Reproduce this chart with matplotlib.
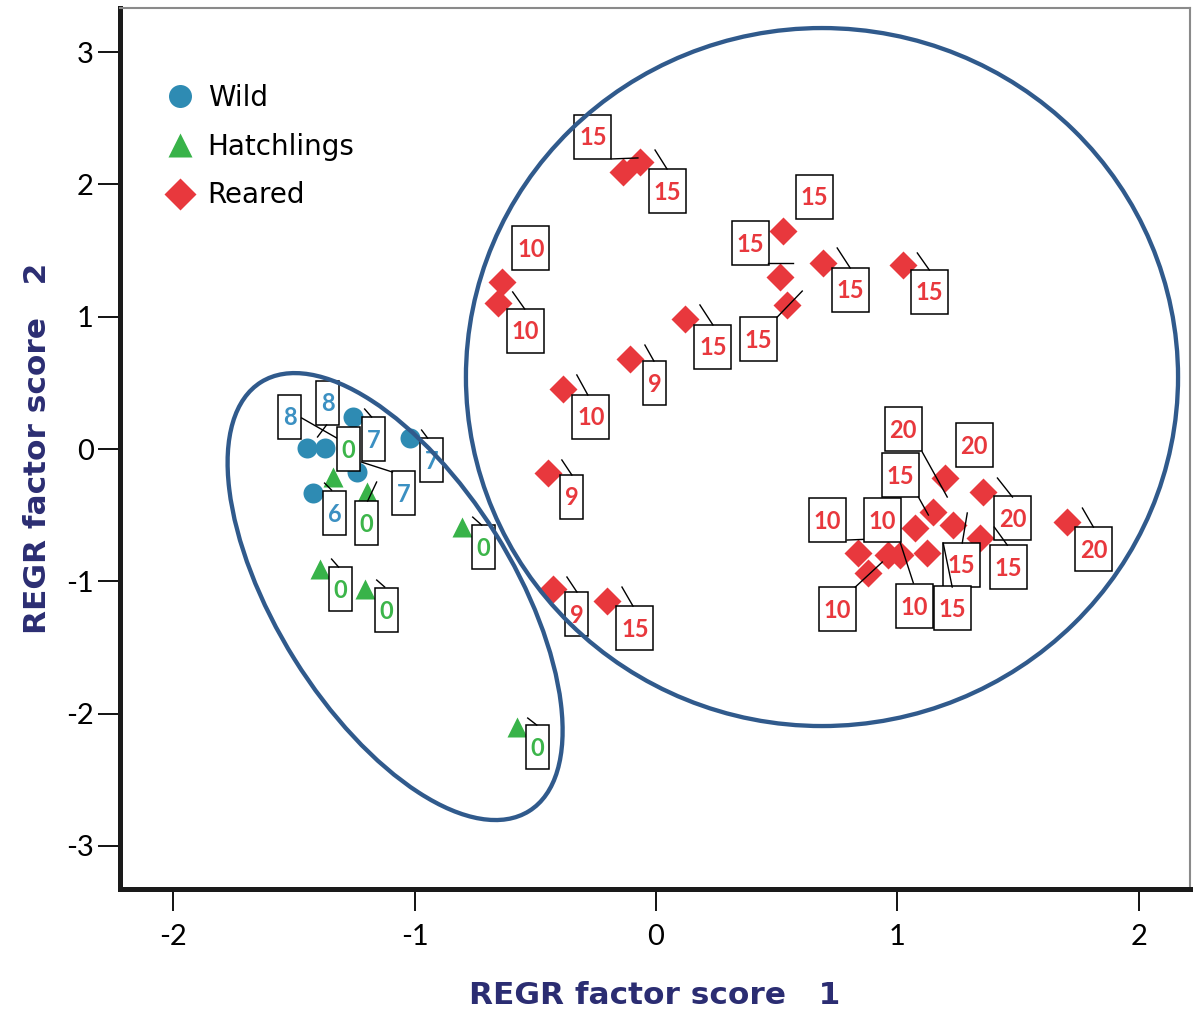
import matplotlib
matplotlib.use("Agg")
import matplotlib.pyplot as plt
from matplotlib.transforms import Affine2D, ScaledTranslation
from matplotlib.patches import Rectangle, Ellipse
from matplotlib.lines import Line2D

plt.rcParams['font.family'] = ['Lato', 'DejaVu Sans']

# ---------------- data ----------------
wild_x = [-1.448, -1.373, -1.257, -1.237, -1.423, -1.021]
wild_y = [0.008, 0.008, 0.242, -0.174, -0.333, 0.083]
wild_lab = ['8', '8', '7', '7', '6', '7']

hatch_x = [-1.340, -1.199, -0.805, -1.394, -1.207, -0.577]
hatch_y = [-0.212, -0.325, -0.590, -0.907, -1.058, -2.101]
hatch_lab = ['0', '0', '0', '0', '0', '0']

reared_x = [-0.137, -0.066, -0.639, -0.656, 0.527, 0.515, 0.693, 0.544, 1.025,
            0.120, -0.108, -0.386, -0.448, -0.427, -0.203,
            1.199, 1.149, 1.075, 0.838, 0.963, 0.880, 1.357, 1.705, 1.232,
            1.344, 1.124, 1.012]
reared_y = [2.094, 2.169, 1.262, 1.104, 1.648, 1.300, 1.406, 1.088, 1.391,
            0.983, 0.680, 0.454, -0.181, -1.058, -1.149,
            -0.219, -0.476, -0.597, -0.786, -0.801, -0.937, -0.325, -0.552, -0.574,
            -0.673, -0.786, -0.801]
reared_lab = ['15', '15', '10', '10', '15', '15', '15', '15', '15',
              '15', '9', '10', '9', '9', '15',
              '20', '20', '15', '10', '10', '10', '20', '20', '15',
              '15', '15', '10']

group_names = ['Wild', 'Hatchlings', 'Reared']
x_ticks = [-2, -1, 0, 1, 2]
y_ticks = [-3, -2, -1, 0, 1, 2, 3]
x_title = 'REGR factor score   1'
y_title = 'REGR factor score   2'

# ---------------- label placement (pixel offsets, y downward) ----------------
# (box_dx, box_dy, leader_x0, leader_y0, leader_x1, leader_y1) or leader None
wild_place = [(21, -45, 11, -11, 20, -23), (-35, -31, 12, -10, -23, -30),
              (21, 22, 12, -8, 19, 0), (46, 21, 4, -10, 35, 0),
              (22, 20, 12, -10, 19, -3), (22, 22, 12, -8, 18, 0)]
hatch_place = [(16, -28, None), (0, 31, 10, -10, 1, 9), (22, 20, 11, -10, 20, -2),
               (21, 20, 12, -10, 19, -2), (22, 21, 12, -9, 20, -2),
               (21, 20, 11, -9, 20, -2)]
reared_place = [(-30, -35, -11, -13, 15, -14), (27, 29, 15, -12, 27, 7),
                (29, -34, None), (28, 28, 15, -11, 27, 6), (31, -34, None),
                (-30, -34, -12, -14, 13, -14), (27, 27, 14, -15, 27, 5),
                (-29, 34, -10, 12, 15, -14), (26, 27, 14, -12, 26, 5),
                (28, 28, 15, -14, 28, 6), (25, 24, 15, -14, 24, 2),
                (28, 28, 14, -14, 25, 6), (24, 24, 14, -13, 24, 2),
                (24, 25, 14, -12, 24, 3), (28, 27, 15, -14, 26, 5),
                (29, -33, None), (-30, -83, 14, -15, -11, -60),
                (-15, -53, 13, -13, 3, -31), (-31, -33, 14, -14, -11, -13),
                (26, 51, 12, -12, 25, 28), (-31, 36, 14, -11, -13, 14),
                (29, 26, 14, -14, 29, 5), (26, 27, 15, -14, 26, 5),
                (8, 40, 14, -12, 9, 18), (28, 29, 14, -11, 27, 7),
                (25, 55, 16, -10, 25, 34), (-18, -35, None)]

# ---------------- figure ----------------
W, H = 1193, 1011
fig = plt.figure(figsize=(W / 100, H / 100), dpi=100)
ax_l, ax_r, ax_t, ax_b = 120, 1190, 8, 889
ax = fig.add_axes([ax_l / W, (H - ax_b) / H, (ax_r - ax_l) / W, (ax_b - ax_t) / H])

ax.set_xlim(-2.221, 2.213)
ax.set_ylim(-3.325, 3.333)
ax.set_autoscale_on(False)

c_wild, c_hatch, c_rear = '#2e8bb3', '#38b349', '#e8383d'
t_wild, t_hatch, t_rear = '#3b90c2', '#3cb54a', '#e8383d'

h1, = ax.plot(wild_x, wild_y, 'o', ms=14.4, color=c_wild, mec='none', zorder=2, label=group_names[0])
h2, = ax.plot(hatch_x, hatch_y, '^', ms=14.5, color=c_hatch, mec='none', zorder=2, label=group_names[1])
h3, = ax.plot(reared_x, reared_y, 'D', ms=14.2, color=c_rear, mec='none', zorder=2, label=group_names[2])


def px_trans(x, y):
    return Affine2D().scale(1, -1) + ScaledTranslation(x, y, ax.transData)


def draw_labels(xs, ys, labs, places, tcolor):
    for x, y, lab, p in zip(xs, ys, labs, places):
        t = px_trans(x, y)
        bx, by = p[0], p[1]
        w = 23 if len(lab) == 1 else 37
        ax.add_patch(Rectangle((bx - w / 2, by - 22), w, 44, transform=t,
                               fc='white', ec='black', lw=1.1, zorder=4, clip_on=False))
        ax.text(bx, by + 1, lab, transform=t, ha='center', va='center',
                fontsize=17, fontweight='bold', color=tcolor, zorder=5)
        if len(p) == 6:
            ax.add_line(Line2D([p[2], p[4]], [p[3], p[5]], transform=t,
                               color='black', lw=1.0, zorder=4))


draw_labels(wild_x, wild_y, wild_lab, wild_place, t_wild)
draw_labels(hatch_x, hatch_y, hatch_lab, hatch_place, t_hatch)
draw_labels(reared_x, reared_y, reared_lab, reared_place, t_rear)

# group ellipses
ell_col = '#305a8c'
ax.add_patch(Ellipse((0.688, 0.544), 2.951, 5.275, fill=False, ec=ell_col, lw=3.1, zorder=6))
ax.add_patch(Ellipse((0, 0), 2 * 252.9, 2 * 118.5, angle=58, transform=px_trans(-1.081, -1.115),
                     fill=False, ec=ell_col, lw=3.1, zorder=6))

# axes styling
for s in ['left', 'bottom']:
    ax.spines[s].set_linewidth(3.6)
    ax.spines[s].set_color('#1a1a1a')
for s in ['top', 'right']:
    ax.spines[s].set_linewidth(1.5)
    ax.spines[s].set_color('#8a8a8a')

ax.set_xticks(x_ticks)
ax.set_yticks(y_ticks)
ax.set_xticklabels([str(v) for v in x_ticks])
ax.set_yticklabels([str(v) for v in y_ticks])
ax.tick_params(axis='both', direction='out', length=16, width=1.3, color='black',
               labelsize=21, labelcolor='black')
ax.tick_params(axis='y', pad=3)
ax.tick_params(axis='x', pad=9)

title_font = dict(fontsize=22.5, fontweight='bold', color='#2b2d72',
                  family=['DejaVu Sans'])
ax.set_xlabel(x_title, **title_font)
ax.set_ylabel(y_title, **title_font)
ax.xaxis.set_label_coords(0.5, -0.104)
ax.yaxis.set_label_coords(-0.064, 0.5)

leg = ax.legend(handles=[h1, h2, h3], loc='upper left', bbox_to_anchor=(0.043, 0.914),
                frameon=False, handlelength=1.0, handletextpad=0.5,
                labelspacing=0.75, borderpad=0, borderaxespad=0, markerscale=1.15,
                prop={'family': ['DejaVu Sans'], 'size': 20})

fig.savefig('out.png', dpi=100)
